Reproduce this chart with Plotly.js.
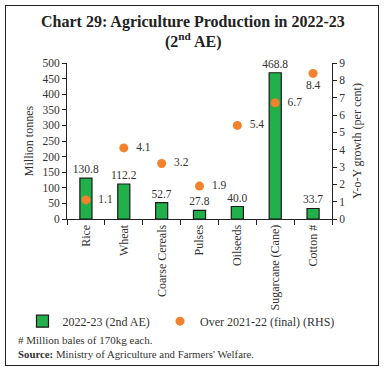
<!DOCTYPE html>
<html><head><meta charset="utf-8">
<script src="https://cdn.plot.ly/plotly-3.0.1.min.js"></script>
<style>
html,body{margin:0;padding:0;background:#fff;}
#frame{position:absolute;left:5px;top:5px;width:372px;height:359px;border:1.5px solid #222;}
#chart{position:absolute;left:0;top:0;width:385px;height:372px;}
</style></head>
<body><div id="frame"></div><div id="chart"></div>
<script>
const categories = ["Rice","Wheat","Coarse Cereals","Pulses","Oilseeds","Sugarcane (Cane)","Cotton #"];
const production = [130.8,112.2,52.7,27.8,40.0,468.8,33.7];
const growth = [1.1,4.1,3.2,1.9,5.4,6.7,8.4];
const growthTextPos = ["middle right","middle right","middle right","middle right","middle right","middle right","bottom center"];

const F = "Liberation Serif, DejaVu Serif, serif";
const txt = "#333";

const growthText = growth.map((v,i)=> (growthTextPos[i]==="middle right" ? "  " : "") + v.toFixed(1));

const traces = [
 {type:"bar", x:categories, y:production, name:"2022-23 (2nd AE)", width:0.32, legend:"legend",
  marker:{color:"#22B04B", line:{color:"#1a1a1a", width:1.2}},
  text:production.map(v=>v.toFixed(1)), textposition:"outside", constraintext:"none", cliponaxis:false,
  textfont:{family:F,size:11.5,color:txt}},
 {type:"scatter", mode:"markers+text", x:categories, y:growth, yaxis:"y2", name:"Over 2021-22 (final) (RHS)", legend:"legend2",
  marker:{color:"#F4812B", size:9},
  text:growthText, textposition:growthTextPos, cliponaxis:false,
  textfont:{family:F,size:11.5,color:txt}}
];

const legendBase = {orientation:"h", xanchor:"left", yanchor:"middle", y:-0.655, font:{family:F,size:12,color:txt}, itemwidth:30, bgcolor:"rgba(0,0,0,0)"};

const layout = {
 width:385, height:372, margin:{l:67,r:53,t:63,b:153},
 paper_bgcolor:"rgba(0,0,0,0)", plot_bgcolor:"rgba(0,0,0,0)",
 font:{family:F, color:txt, size:11},
 showlegend:true,
 legend:Object.assign({}, legendBase, {x:-0.168}),
 legend2:Object.assign({}, legendBase, {x:0.351}),
 bargap:0.5,
 xaxis:{showline:true, linecolor:"#222", linewidth:1, ticks:"outside", tickson:"boundaries", ticklen:5, tickcolor:"#222", tickangle:-90, tickfont:{family:F,size:12,color:txt}, showgrid:false},
 yaxis:{range:[0,500], dtick:50, showline:true, linecolor:"#222", ticks:"outside", ticklen:4, tickcolor:"#222", showgrid:false, zeroline:false, tickfont:{family:F,size:11.5,color:txt}, title:{text:"Million tonnes", font:{family:F,size:12,color:txt}, standoff:6}},
 yaxis2:{range:[0,9], dtick:1, overlaying:"y", side:"right", showline:true, linecolor:"#222", ticks:"outside", ticklen:4, tickcolor:"#222", showgrid:false, zeroline:false, tickfont:{family:F,size:11.5,color:txt}, title:{text:"Y-o-Y growth (per cent)", font:{family:F,size:12,color:txt}, standoff:8}},
 annotations:[
  {xref:"paper", yref:"paper", x:0.4736, y:1.263, xanchor:"center", yanchor:"middle", text:"<b>Chart 29: Agriculture Production in 2022-23</b>", showarrow:false, font:{family:F,size:16,color:"#222"}},
  {xref:"paper", yref:"paper", x:0.4736, y:1.147, xanchor:"center", yanchor:"middle", text:"<b>(2<sup>nd</sup> AE)</b>", showarrow:false, font:{family:F,size:16,color:"#222"}},
  {xref:"paper", yref:"paper", x:-0.192, y:-0.775, xanchor:"left", yanchor:"middle", text:"# Million bales of 170kg each.", showarrow:false, font:{family:F,size:11,color:txt}},
  {xref:"paper", yref:"paper", x:-0.192, y:-0.865, xanchor:"left", yanchor:"middle", text:"<b>Source:</b> Ministry of Agriculture and Farmers' Welfare.", showarrow:false, font:{family:F,size:10.8,color:txt}}
 ]
};
Plotly.newPlot("chart", traces, layout, {displayModeBar:false, staticPlot:true});
</script></body></html>
